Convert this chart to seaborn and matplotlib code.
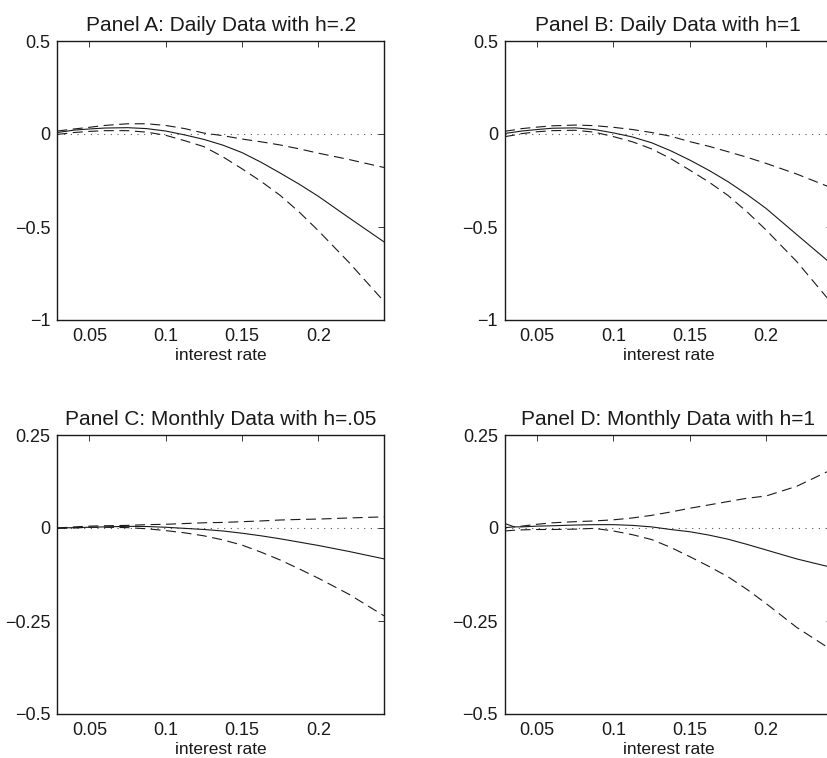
import numpy as np
import pandas as pd
import matplotlib
matplotlib.use("Agg")
import matplotlib.pyplot as plt
import seaborn as sns

# ---------------- data ----------------
rate = [0.029, 0.035, 0.04, 0.05, 0.06, 0.075, 0.0875, 0.1, 0.1125, 0.125,
        0.1375, 0.15, 0.1625, 0.175, 0.1875, 0.2, 0.22, 0.243]

a_est = [0.008, 0.015, 0.021, 0.027, 0.032, 0.034, 0.029, 0.016, -0.005, -0.029,
         -0.06, -0.10, -0.152, -0.21, -0.27, -0.335, -0.45, -0.58]
a_up = [0.016, 0.022, 0.027, 0.036, 0.046, 0.055, 0.055, 0.046, 0.029, 0.005,
        -0.009, -0.027, -0.042, -0.059, -0.08, -0.103, -0.137, -0.18]
a_lo = [-0.002, 0.003, 0.008, 0.014, 0.018, 0.018, 0.010, -0.007, -0.036, -0.068,
        -0.123, -0.187, -0.255, -0.33, -0.42, -0.52, -0.69, -0.90]

b_est = [0.003, 0.010, 0.016, 0.024, 0.031, 0.033, 0.024, 0.006, -0.016, -0.047,
         -0.09, -0.14, -0.195, -0.256, -0.325, -0.40, -0.54, -0.70]
b_up = [0.015, 0.022, 0.029, 0.037, 0.044, 0.048, 0.045, 0.036, 0.024, 0.008,
        -0.012, -0.041, -0.066, -0.095, -0.125, -0.158, -0.215, -0.29]
b_lo = [-0.014, -0.006, 0.002, 0.012, 0.018, 0.020, 0.010, -0.014, -0.042, -0.080,
        -0.132, -0.194, -0.258, -0.33, -0.418, -0.516, -0.685, -0.91]

c_est = [0.0, 0.0005, 0.001, 0.002, 0.003, 0.0045, 0.004, 0.002, -0.001, -0.004,
         -0.008, -0.014, -0.021, -0.029, -0.038, -0.047, -0.063, -0.083]
c_up = [0.0, 0.0015, 0.003, 0.005, 0.006, 0.007, 0.009, 0.010, 0.012, 0.014,
        0.015, 0.017, 0.019, 0.0215, 0.023, 0.024, 0.027, 0.030]
c_lo = [-0.001, -0.0005, 0.0, 0.002, 0.002, 0.001, -0.002, -0.007, -0.013, -0.021,
        -0.032, -0.046, -0.065, -0.086, -0.11, -0.135, -0.178, -0.236]

d_est = [0.012, 0.003, 0.003, 0.005, 0.006, 0.008, 0.009, 0.009, 0.007, 0.003,
         -0.004, -0.010, -0.019, -0.030, -0.044, -0.059, -0.083, -0.106]
d_up = [0.001, 0.003, 0.005, 0.010, 0.014, 0.017, 0.019, 0.022, 0.027, 0.034,
        0.043, 0.053, 0.062, 0.071, 0.080, 0.086, 0.112, 0.157]
d_lo = [-0.008, -0.006, -0.005, -0.004, -0.004, -0.003, -0.001, -0.008, -0.018, -0.031,
        -0.052, -0.077, -0.103, -0.131, -0.165, -0.203, -0.267, -0.328]

titles = ["Panel A: Daily Data with h=.2", "Panel B: Daily Data with h=1",
          "Panel C: Monthly Data with h=.05", "Panel D: Monthly Data with h=1"]
xticks = [0.05, 0.1, 0.15, 0.2]
xtick_labels = ["0.05", "0.1", "0.15", "0.2"]
yticks_daily = [-1, -0.5, 0, 0.5]
ytick_labels_daily = ["\u22121", "\u22120.5", "0", "0.5"]
yticks_monthly = [-0.5, -0.25, 0, 0.25]
ytick_labels_monthly = ["\u22120.5", "\u22120.25", "0", "0.25"]
xlabel = "interest rate"

# ---------------- style ----------------
sns.set_style("white")
plt.rcParams["font.family"] = ["Liberation Sans", "DejaVu Sans"]
plt.rcParams["text.color"] = "#1a1a1a"
plt.rcParams["axes.labelcolor"] = "#1a1a1a"
plt.rcParams["xtick.color"] = "#1a1a1a"
plt.rcParams["ytick.color"] = "#1a1a1a"

fig = plt.figure(figsize=(8.27, 7.58), dpi=100)
W, H = 827.0, 758.0
ax_w, ax_h = 326.7 / W, 279.0 / H
positions = [
    (57.3 / W, (H - 320) / H),
    (505.0 / W, (H - 320) / H),
    (57.3 / W, (H - 714) / H),
    (505.0 / W, (H - 714) / H),
]

panels = [
    (a_est, a_up, a_lo, yticks_daily, ytick_labels_daily, (-1, 0.5)),
    (b_est, b_up, b_lo, yticks_daily, ytick_labels_daily, (-1, 0.5)),
    (c_est, c_up, c_lo, yticks_monthly, ytick_labels_monthly, (-0.5, 0.25)),
    (d_est, d_up, d_lo, yticks_monthly, ytick_labels_monthly, (-0.5, 0.25)),
]

dash_pat = (9, 5)
for i, (est, up, lo, yt, ytl, ylim) in enumerate(panels):
    ax = fig.add_axes([positions[i][0], positions[i][1], ax_w, ax_h])
    df = pd.DataFrame({
        "rate": rate * 3,
        "value": est + up + lo,
        "curve": ["estimate"] * len(rate) + ["upper"] * len(rate) + ["lower"] * len(rate),
    })
    ax.axhline(0, color="#555555", lw=0.8, linestyle=(0, (1, 5)), zorder=1)
    sns.lineplot(data=df, x="rate", y="value", style="curve",
                 dashes={"estimate": "", "upper": dash_pat, "lower": dash_pat},
                 color="#1a1a1a", linewidth=0.8, ax=ax, legend=False,
                 errorbar=None, sort=False, zorder=3)
    ax.set_xlim(0.029, 0.243)
    ax.set_ylim(*ylim)
    ax.set_xticks(xticks)
    ax.set_xticklabels(xtick_labels)
    ax.set_yticks(yt)
    ax.set_yticklabels(ytl)
    ax.tick_params(direction="in", length=4, width=0.6, top=True, right=True,
                   labelsize=13, pad=5)
    ax.tick_params(axis="x", pad=6)
    for sp in ax.spines.values():
        sp.set_visible(True)
        sp.set_color("#1a1a1a")
        sp.set_linewidth(1.0)
    ax.set_xlabel(xlabel, fontsize=12.5, labelpad=2)
    ax.set_ylabel("")
    ax.set_title(titles[i], fontsize=15, pad=7)

fig.savefig("out.png", dpi=100)
